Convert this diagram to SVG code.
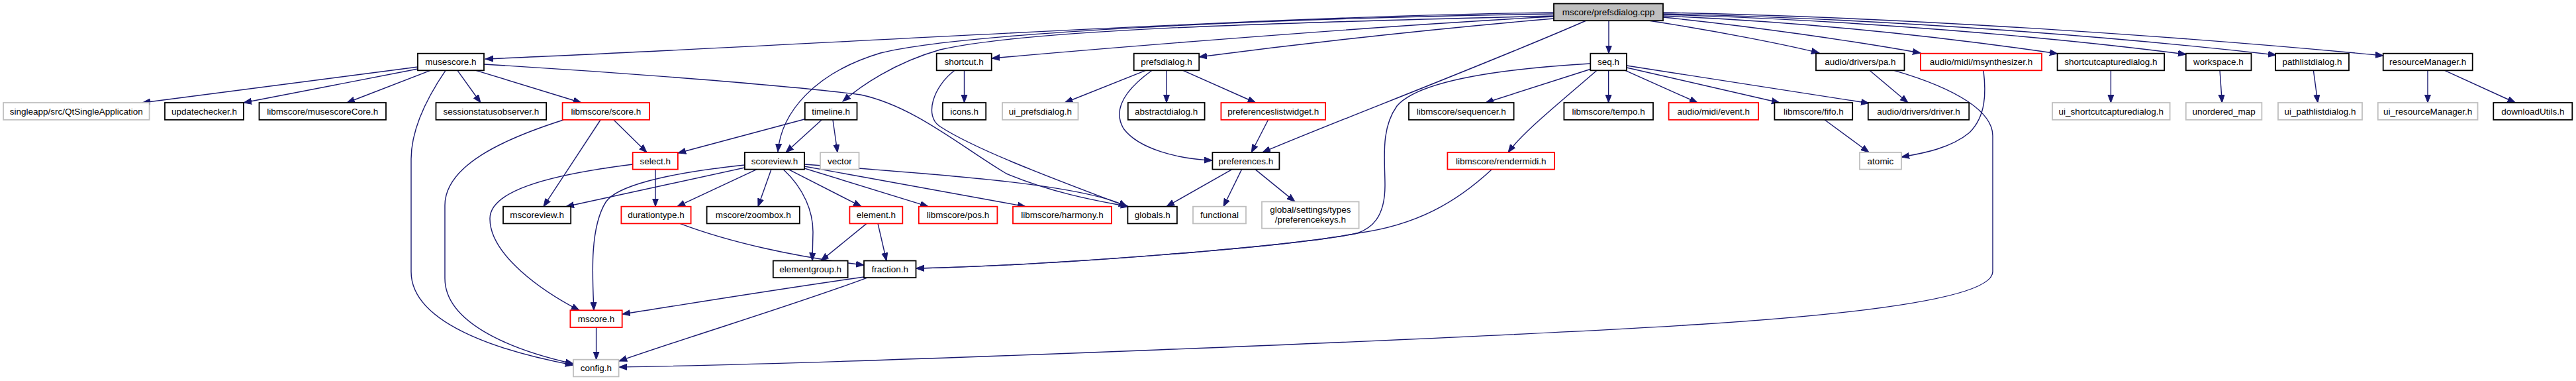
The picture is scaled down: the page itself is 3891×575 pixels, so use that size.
<svg xmlns="http://www.w3.org/2000/svg" width="3891" height="575" viewBox="0 0 3891 575">
<style>
rect{fill:#fff;stroke-width:1.8}
.b rect{stroke:#000}
.r rect{stroke:#ff0000}
.g rect{stroke:#bfbfbf}
.root rect{fill:#bfbfbf;stroke:#000}
text{font-family:"Liberation Sans",Arial,sans-serif;font-size:13.5px;fill:#000;text-anchor:middle}
#edges path{fill:none;stroke:#191970;stroke-width:1.4;marker-end:url(#a)}
</style>
<defs>
<marker id="a" markerWidth="13" markerHeight="11" refX="12" refY="5" orient="auto" markerUnits="userSpaceOnUse">
<path d="M0,0.5 L12,5 L0,9.5 z" fill="#191970" stroke="#191970" stroke-width="1"/>
</marker>
</defs>
<rect x="0" y="0" width="3891" height="575" style="fill:#fff;stroke:none"/>
<g id="edges">
<path d="M2347,19 C1900,24 1200,70 733,89"/>
<path d="M2347,21 C1900,28 1450,50 1330,80 C1230,110 1180,170 1175,229"/>
<path d="M2347,24 C1900,35 1550,45 1420,75 C1350,95 1300,130 1273,153"/>
<path d="M2347,25 C2100,38 1700,70 1498,88"/>
<path d="M2347,28 C2150,45 1950,68 1811,86"/>
<path d="M2396,31 C2250,95 2000,190 1907,230"/>
<path d="M2430,31 L2430,80.7"/>
<path d="M2490,31 C2600,48 2700,68 2748,80"/>
<path d="M2512,26 C2650,40 2800,62 2901,80"/>
<path d="M2512,24 C2750,34 2950,58 3108,81"/>
<path d="M2512,22 C2800,30 3100,56 3302,82"/>
<path d="M2512,21 C2850,28 3200,56 3438,83"/>
<path d="M2512,19 C2900,26 3350,60 3600,84"/>
<path d="M631,101 L215,155"/>
<path d="M631,104 L368,155"/>
<path d="M650,106.3 L524,155"/>
<path d="M691,106.3 L726,155"/>
<path d="M719,106.3 L878,155"/>
<path d="M673,106.3 C650,140 621,190 621,240 L621,410 C621,495 780,535 866,551"/>
<path d="M731,97 C950,110 1200,130 1300,143 C1380,160 1450,220 1520,262 C1600,295 1670,305 1705,312"/>
<path d="M927,181 L977,230"/>
<path d="M907,181 L821,311.7"/>
<path d="M851,181 C760,210 672,250 672,310 L672,420 C672,490 780,530 866,549"/>
<path d="M1215,180 L1024,231"/>
<path d="M1241,181 L1187,230"/>
<path d="M1258,181 L1265,230"/>
<path d="M956,248 C820,265 740,290 740,330 C740,385 820,440 875,468.3"/>
<path d="M990,255.6 L990,311.7"/>
<path d="M1125,253 L855,311.7"/>
<path d="M1125,249 C1000,262 930,282 915,305 C890,345 895,420 897,468.3"/>
<path d="M1143,255.6 L1023,311.7"/>
<path d="M1165,255.6 L1145,311.7"/>
<path d="M1183,255.6 C1215,285 1228,320 1228,350 L1227,393.5"/>
<path d="M1191,255.6 L1301,311.7"/>
<path d="M1215,254 L1402,311.7"/>
<path d="M1215,251 L1549,311.7"/>
<path d="M1215,248 C1450,265 1640,280 1702,311.7"/>
<path d="M1027,337.4 C1100,365 1200,388 1305,400"/>
<path d="M1309,337.4 L1240,393.5"/>
<path d="M1326,337.4 L1339,393.5"/>
<path d="M1305,418 C1150,440 1000,465 940,474"/>
<path d="M1310,419.1 C1200,460 1050,505 935,545"/>
<path d="M900.6,494 L900.6,542.7"/>
<path d="M2861,106.3 C2960,135 3010,170 3010,205 L3010,410 C3010,455 2750,478 2560,490 C2200,512 1300,548 935,554"/>
<path d="M2402,96 C2250,105 2140,125 2110,160 C2085,195 2092,240 2092,280 C2092,330 2070,345 2050,352 C1950,372 1600,400 1384,405"/>
<path d="M2253,256 C2200,305 2140,340 2050,352 C1950,372 1600,400 1384,405"/>
<path d="M2402,104.5 L2244,155"/>
<path d="M2412,106.3 C2350,160 2300,200 2278,230"/>
<path d="M2429.6,106.3 L2429.6,155"/>
<path d="M2455,106.3 L2564,155"/>
<path d="M2457,102 L2688,155"/>
<path d="M2457,99 L2823,155.8"/>
<path d="M2824,106.3 L2882,155"/>
<path d="M2756,180.8 L2823,230"/>
<path d="M2996,106.3 C3000,140 3000,175 2975,200 C2945,225 2900,232 2872,237"/>
<path d="M3188.4,106.3 L3188.4,155"/>
<path d="M3353,106.3 L3356.4,155"/>
<path d="M3494.4,106.3 L3501,155"/>
<path d="M3667,106.3 L3667,155"/>
<path d="M3692.7,106.3 L3799.4,155"/>
<path d="M1456.5,106.3 L1456.5,155"/>
<path d="M1442,106.3 C1410,130 1395,175 1420,191 C1480,230 1620,280 1702,311.7"/>
<path d="M1730.4,106.3 L1608.3,155"/>
<path d="M1762,106.3 L1762,155"/>
<path d="M1787,106.3 L1896.6,155"/>
<path d="M1740,106.3 C1700,135 1680,165 1697,194 C1720,225 1780,240 1831,242"/>
<path d="M1915.6,180.8 L1890.3,230"/>
<path d="M1861,255.6 L1762,311.7"/>
<path d="M1875.6,255.6 L1848,311.7"/>
<path d="M1896,255.6 L1956,304.4"/>
</g>
<g id="n_root" class="root"><rect x="2347" y="5.5" width="165" height="25.7"/><text x="2429.5" y="23">mscore/prefsdialog.cpp</text></g>
<g id="n_musescore" class="b"><rect x="631" y="80.7" width="100" height="25.6"/><text x="681" y="98.3">musescore.h</text></g>
<g id="n_shortcut" class="b"><rect x="1414.7" y="80.7" width="83" height="25.6"/><text x="1456.2" y="98.3">shortcut.h</text></g>
<g id="n_prefsdialog" class="b"><rect x="1712.7" y="80.7" width="98.5" height="25.6"/><text x="1762" y="98.3">prefsdialog.h</text></g>
<g id="n_seq" class="b"><rect x="2402.3" y="80.7" width="54.7" height="25.6"/><text x="2429.6" y="98.3">seq.h</text></g>
<g id="n_pa" class="b"><rect x="2743" y="80.7" width="133.5" height="25.6"/><text x="2809.8" y="98.3">audio/drivers/pa.h</text></g>
<g id="n_msynth" class="r"><rect x="2901" y="80.7" width="183" height="25.6"/><text x="2992.5" y="98.3">audio/midi/msynthesizer.h</text></g>
<g id="n_shortcutcap" class="b"><rect x="3107.6" y="80.7" width="161.6" height="25.6"/><text x="3188.4" y="98.3">shortcutcapturedialog.h</text></g>
<g id="n_workspace" class="b"><rect x="3301.8" y="80.7" width="98.7" height="25.6"/><text x="3351" y="98.3">workspace.h</text></g>
<g id="n_pathlist" class="b"><rect x="3437" y="80.7" width="111" height="25.6"/><text x="3492.5" y="98.3">pathlistdialog.h</text></g>
<g id="n_resmgr" class="b"><rect x="3599.7" y="80.7" width="135" height="25.6"/><text x="3667.2" y="98.3">resourceManager.h</text></g>
<g id="n_singleapp" class="g"><rect x="5" y="155" width="220.6" height="25.8"/><text x="115.3" y="172.8">singleapp/src/QtSingleApplication</text></g>
<g id="n_updatechecker" class="b"><rect x="249" y="155" width="119" height="25.8"/><text x="308.5" y="172.8">updatechecker.h</text></g>
<g id="n_msCore" class="b"><rect x="391.5" y="155" width="191.5" height="25.8"/><text x="487.3" y="172.8">libmscore/musescoreCore.h</text></g>
<g id="n_session" class="b"><rect x="658.5" y="155" width="166.7" height="25.8"/><text x="741.8" y="172.8">sessionstatusobserver.h</text></g>
<g id="n_score" class="r"><rect x="849.6" y="155" width="131.4" height="25.8"/><text x="915.3" y="172.8">libmscore/score.h</text></g>
<g id="n_timeline" class="b"><rect x="1215.8" y="155" width="78.7" height="25.8"/><text x="1255.2" y="172.8">timeline.h</text></g>
<g id="n_icons" class="b"><rect x="1424" y="155" width="65.2" height="25.8"/><text x="1456.6" y="172.8">icons.h</text></g>
<g id="n_uiprefs" class="g"><rect x="1514" y="155" width="114.5" height="25.8"/><text x="1571.3" y="172.8">ui_prefsdialog.h</text></g>
<g id="n_abstract" class="b"><rect x="1703.8" y="155" width="115.8" height="25.8"/><text x="1761.7" y="172.8">abstractdialog.h</text></g>
<g id="n_prefslist" class="r"><rect x="1844.4" y="155" width="157.6" height="25.8"/><text x="1923.2" y="172.8">preferenceslistwidget.h</text></g>
<g id="n_sequencer" class="b"><rect x="2128" y="155" width="158.6" height="25.8"/><text x="2207.3" y="172.8">libmscore/sequencer.h</text></g>
<g id="n_tempo" class="b"><rect x="2362.4" y="155" width="134.6" height="25.8"/><text x="2429.7" y="172.8">libmscore/tempo.h</text></g>
<g id="n_event" class="r"><rect x="2520.6" y="155" width="135.4" height="25.8"/><text x="2588.3" y="172.8">audio/midi/event.h</text></g>
<g id="n_fifo" class="b"><rect x="2680.4" y="155" width="117.8" height="25.8"/><text x="2739.3" y="172.8">libmscore/fifo.h</text></g>
<g id="n_driver" class="b"><rect x="2821.8" y="155" width="152.4" height="25.8"/><text x="2898" y="172.8">audio/drivers/driver.h</text></g>
<g id="n_uishortcut" class="g"><rect x="3100" y="155" width="177.6" height="25.8"/><text x="3188.8" y="172.8">ui_shortcutcapturedialog.h</text></g>
<g id="n_umap" class="g"><rect x="3301.8" y="155" width="114.6" height="25.8"/><text x="3359.1" y="172.8">unordered_map</text></g>
<g id="n_uipathlist" class="g"><rect x="3441" y="155" width="127" height="25.8"/><text x="3504.5" y="172.8">ui_pathlistdialog.h</text></g>
<g id="n_uiresmgr" class="g"><rect x="3591.8" y="155" width="150.7" height="25.8"/><text x="3667.2" y="172.8">ui_resourceManager.h</text></g>
<g id="n_download" class="b"><rect x="3766.3" y="155" width="119" height="25.8"/><text x="3825.8" y="172.8">downloadUtils.h</text></g>
<g id="n_select" class="r"><rect x="955.7" y="230" width="68.2" height="25.6"/><text x="989.8" y="247.6">select.h</text></g>
<g id="n_scoreview" class="b"><rect x="1124.9" y="230" width="90.1" height="25.6"/><text x="1170" y="247.6">scoreview.h</text></g>
<g id="n_vector" class="g"><rect x="1239" y="230" width="58.5" height="25.6"/><text x="1268.3" y="247.6">vector</text></g>
<g id="n_preferences" class="b"><rect x="1831.4" y="230" width="101" height="25.6"/><text x="1881.9" y="247.6">preferences.h</text></g>
<g id="n_rendermidi" class="r"><rect x="2186.4" y="230" width="161.6" height="25.6"/><text x="2267.2" y="247.6">libmscore/rendermidi.h</text></g>
<g id="n_atomic" class="g"><rect x="2809" y="230" width="63" height="25.6"/><text x="2840.5" y="247.6">atomic</text></g>
<g id="n_mscoreview" class="b"><rect x="760" y="311.7" width="102.2" height="25.7"/><text x="811.1" y="329.3">mscoreview.h</text></g>
<g id="n_durationtype" class="r"><rect x="938.4" y="311.7" width="105.2" height="25.7"/><text x="991" y="329.3">durationtype.h</text></g>
<g id="n_zoombox" class="b"><rect x="1067.6" y="311.7" width="140.2" height="25.7"/><text x="1137.7" y="329.3">mscore/zoombox.h</text></g>
<g id="n_element" class="r"><rect x="1283.4" y="311.7" width="79.9" height="25.7"/><text x="1323.4" y="329.3">element.h</text></g>
<g id="n_pos" class="r"><rect x="1387.8" y="311.7" width="118.6" height="25.7"/><text x="1447.1" y="329.3">libmscore/pos.h</text></g>
<g id="n_harmony" class="r"><rect x="1530" y="311.7" width="149" height="25.7"/><text x="1604.5" y="329.3">libmscore/harmony.h</text></g>
<g id="n_globals" class="b"><rect x="1703.4" y="311.7" width="74.5" height="25.7"/><text x="1740.7" y="329.3">globals.h</text></g>
<g id="n_functional" class="g"><rect x="1802" y="311.7" width="80" height="25.7"/><text x="1842" y="329.3">functional</text></g>
<g id="n_prefkeys" class="g"><rect x="1906" y="304.4" width="146.6" height="40.3"/><text x="1979.3" y="321">global/settings/types</text><text x="1979.3" y="335.8">/preferencekeys.h</text></g>
<g id="n_elementgroup" class="b"><rect x="1167.8" y="393.5" width="112.8" height="25.6"/><text x="1224.2" y="411">elementgroup.h</text></g>
<g id="n_fraction" class="b"><rect x="1305" y="393.5" width="78.5" height="25.6"/><text x="1344.3" y="411">fraction.h</text></g>
<g id="n_mscore" class="r"><rect x="861.4" y="468.3" width="78.3" height="25.7"/><text x="900.6" y="486">mscore.h</text></g>
<g id="n_config" class="g"><rect x="866" y="542.7" width="68.6" height="25.7"/><text x="900.3" y="560.3">config.h</text></g>
</svg>
